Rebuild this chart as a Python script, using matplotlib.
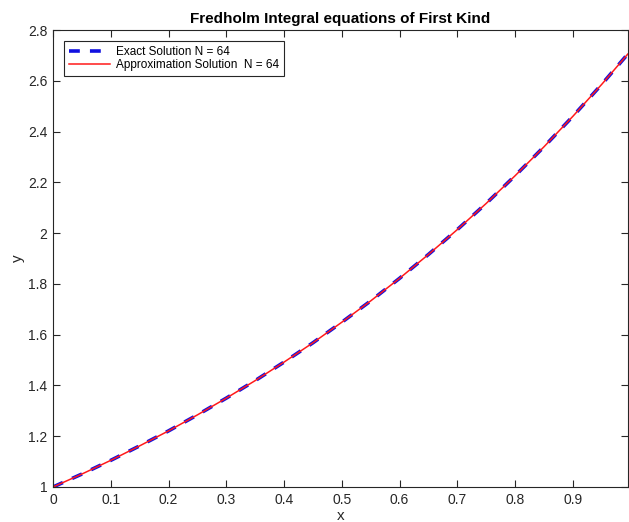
import matplotlib
matplotlib.use('Agg')
import matplotlib.pyplot as plt

# values
xVals = [0.0, 0.05, 0.1, 0.15, 0.2, 0.25, 0.3, 0.35, 0.4, 0.45, 0.5,
         0.55, 0.6, 0.65, 0.7, 0.75, 0.8, 0.85, 0.9, 0.95, 0.995]
exactVals = [1.000, 1.051, 1.105, 1.162, 1.221, 1.284, 1.350, 1.419, 1.492, 1.568, 1.649,
             1.733, 1.822, 1.916, 2.014, 2.117, 2.226, 2.340, 2.460, 2.586, 2.705]
approxVals = [1.000, 1.051, 1.105, 1.162, 1.221, 1.284, 1.350, 1.419, 1.492, 1.568, 1.649,
              1.733, 1.822, 1.916, 2.014, 2.117, 2.226, 2.340, 2.460, 2.586, 2.705]
xTicks = [0, 0.1, 0.2, 0.3, 0.4, 0.5, 0.6, 0.7, 0.8, 0.9]
xTickLabels = ['0', '0.1', '0.2', '0.3', '0.4', '0.5', '0.6', '0.7', '0.8', '0.9']
yTicks = [1, 1.2, 1.4, 1.6, 1.8, 2, 2.2, 2.4, 2.6, 2.8]
yTickLabels = ['1', '1.2', '1.4', '1.6', '1.8', '2', '2.2', '2.4', '2.6', '2.8']

plt.rcParams['font.family'] = ['Liberation Sans', 'DejaVu Sans']

fig = plt.figure(figsize=(6.29, 5.22), dpi=100)
ax = fig.add_axes([53/629, 35/522, 1 - 53/629 - 0.002, (487 - 30)/522])

ax.plot(xVals, exactVals, color='#1010e0', linestyle=(0, (3.0, 2.8)), linewidth=2.6,
        label='Exact Solution N = 64')
ax.plot(xVals, approxVals, color='#ff1a1a', linewidth=1.1,
        label='Approximation Solution  N = 64')

ax.set_xlim(0, 0.995)
ax.set_ylim(1, 2.8)
ax.set_xticks(xTicks)
ax.set_xticklabels(xTickLabels)
ax.set_yticks(yTicks)
ax.set_yticklabels(yTickLabels)
ax.tick_params(direction='in', top=True, right=True, labelsize=10, length=5,
               color='#262626', labelcolor='#262626', pad=4)
for s in ax.spines.values():
    s.set_color('#262626')
    s.set_linewidth(0.8)

ax.set_xlabel('x', fontsize=11, color='#262626', labelpad=2)
ax.set_ylabel('y', fontsize=11, color='#262626', labelpad=2)
ax.set_title('Fredholm Integral equations of First Kind', fontsize=11,
             fontweight='bold', pad=5)

leg = ax.legend(loc='upper left', fontsize=8.5, fancybox=False, framealpha=1,
                edgecolor='#262626', borderaxespad=0.95, handlelength=3.5,
                handletextpad=0.5, borderpad=0.42, labelspacing=0.1)
leg.get_frame().set_linewidth(0.8)

fig.savefig('out.png', dpi=100)
